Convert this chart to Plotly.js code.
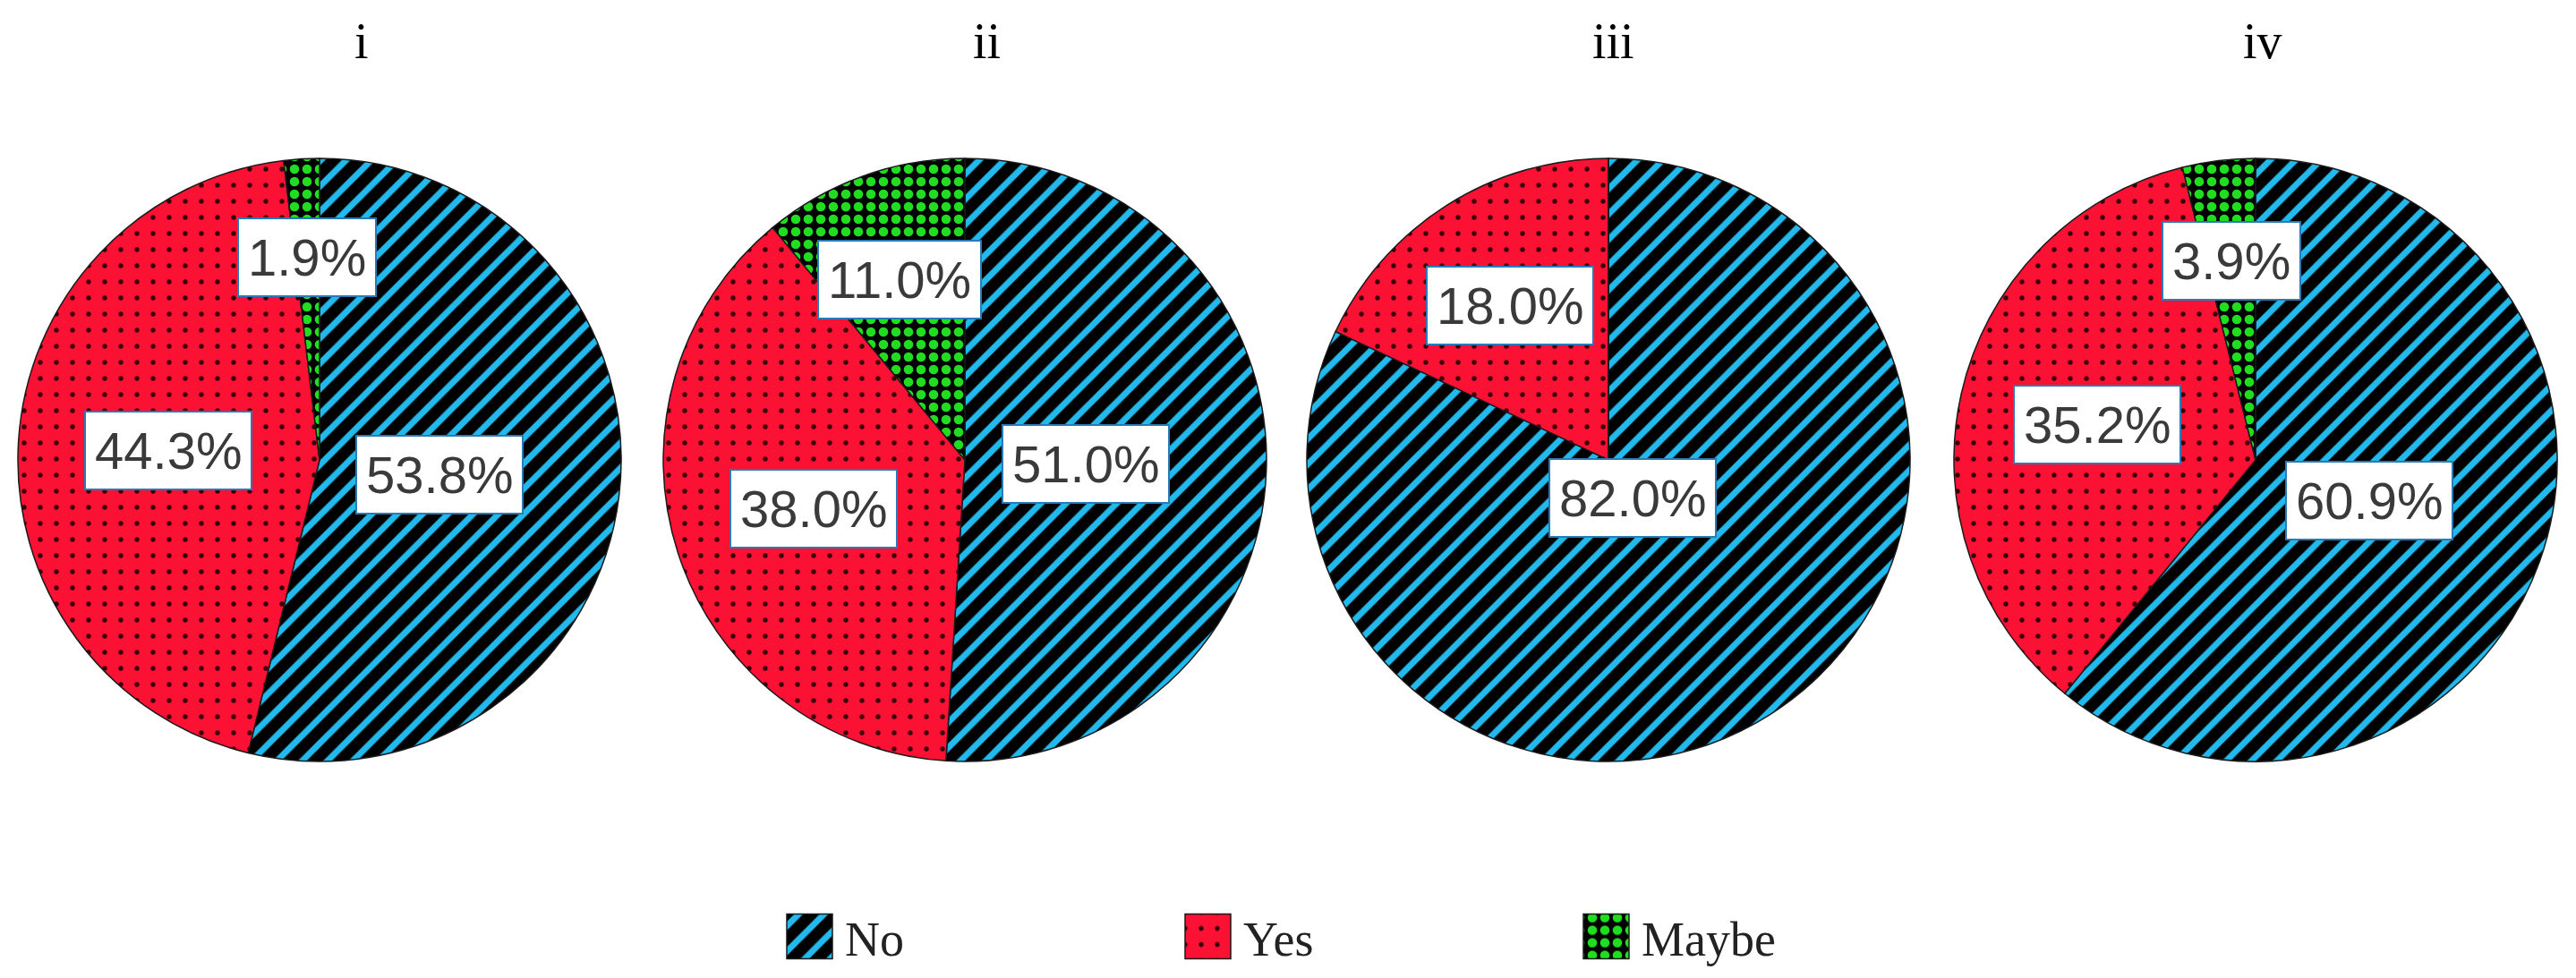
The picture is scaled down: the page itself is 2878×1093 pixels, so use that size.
<!DOCTYPE html>
<html>
<head>
<meta charset="utf-8">
<script src="https://cdn.plot.ly/plotly-3.0.1.min.js"></script>
<style>
html,body{margin:0;padding:0;background:#fff;}
#chart{width:2878px;height:1093px;}
</style>
</head>
<body>
<div id="chart"></div>
<script>
// ---- data ----
const categories = ['No', 'Yes', 'Maybe'];
const panelTitles = ['i', 'ii', 'iii', 'iv'];
const pieI   = [53.8, 44.3, 1.9];
const pieII  = [51.0, 38.0, 11.0];
const pieIII = [82.0, 18.0, 0];
const pieIV  = [60.9, 35.2, 3.9];
const pieValues = [pieI, pieII, pieIII, pieIV];

// ---- layout constants ----
const W = 2878, H = 1093;
const pieCentersPx = [357, 1078, 1797, 2520];
const titleCentersPx = [404, 1102, 1803, 2528];
const pieCY = 514, pieR = 337;

const bgColors = ['#000000', '#fa1133', '#000000'];
const fgColors = ['#22b9ec', '#3a0008', '#20dd20'];
const legendColors = ['#000000', '#fa1133', '#20dd20'];
const shapes = ['/', '.', '.'];
const sizes = [20, 18, 14];
const solids = [0.35, 0.07, 0.45];

// radial position (fraction of radius) of a data label, Excel-like best fit
function labelRadius(pct) {
  if (pct < 50) return 0.68 - 0.004 * pct;
  if (pct < 70) return 0.40;
  return 0.15;
}

const traces = [];
const annotations = [];
pieValues.forEach((vals, k) => {
  const cx = pieCentersPx[k];
  traces.push({
    type: 'pie',
    labels: categories,
    values: vals,
    sort: false,
    direction: 'clockwise',
    rotation: 0,
    textinfo: 'none',
    hoverinfo: 'label+percent',
    domain: {
      x: [(cx - pieR) / W, (cx + pieR) / W],
      y: [(H - pieCY - pieR) / H, (H - pieCY + pieR) / H]
    },
    marker: {
      colors: legendColors,
      line: {color: '#1a1a1a', width: 1.5},
      pattern: {
        shape: shapes,
        bgcolor: bgColors,
        fgcolor: fgColors,
        size: sizes,
        solidity: solids,
        fillmode: 'replace'
      }
    },
    showlegend: k === 0
  });
  // data labels at slice mid-angles
  let cum = 0;
  vals.forEach(v => {
    if (v > 0) {
      const ang = (cum + v / 2) / 100 * 2 * Math.PI;
      const f = labelRadius(v);
      const px = cx + f * pieR * Math.sin(ang);
      const py = pieCY - f * pieR * Math.cos(ang);
      annotations.push({
        xref: 'paper', yref: 'paper',
        x: px / W, y: 1 - py / H,
        xanchor: 'center', yanchor: 'middle',
        text: v.toFixed(1) + '%',
        showarrow: false,
        font: {family: 'Liberation Sans, Arial, sans-serif', size: 58, color: '#3a3a3a'},
        bgcolor: '#ffffff',
        bordercolor: '#2a7ab8',
        borderwidth: 2,
        borderpad: 10
      });
    }
    cum += v;
  });
  // panel title
  annotations.push({
    xref: 'paper', yref: 'paper',
    x: titleCentersPx[k] / W, y: 1 - 46 / H,
    xanchor: 'center', yanchor: 'middle',
    text: panelTitles[k],
    showarrow: false,
    font: {family: 'Liberation Serif, DejaVu Serif, serif', size: 56, color: '#000000'}
  });
});

const layout = {
  width: W, height: H,
  margin: {l: 0, r: 0, t: 0, b: 0},
  paper_bgcolor: '#ffffff',
  showlegend: true,
  legend: {
    orientation: 'h',
    x: 904 / W, xanchor: 'left',
    y: 1 - 1047 / H, yanchor: 'middle',
    font: {family: 'Liberation Serif, DejaVu Serif, serif', size: 54, color: '#222222'},
    entrywidth: 400,
    entrywidthmode: 'pixels',
    bgcolor: 'rgba(0,0,0,0)'
  },
  annotations: annotations
};

function enlargeSwatches() {
  document.querySelectorAll('#chart .legend .scrollbox').forEach(e => {
    e.removeAttribute('clip-path');
  });
  document.querySelectorAll('#chart path.legendpie').forEach(p => {
    p.setAttribute('d', 'M-45,-25H6V25H-45Z');
  });
}

Plotly.newPlot('chart', traces, layout, {displayModeBar: false, staticPlot: true}).then(gd => {
  enlargeSwatches();
  gd.on('plotly_afterplot', enlargeSwatches);
});
</script>
</body>
</html>
